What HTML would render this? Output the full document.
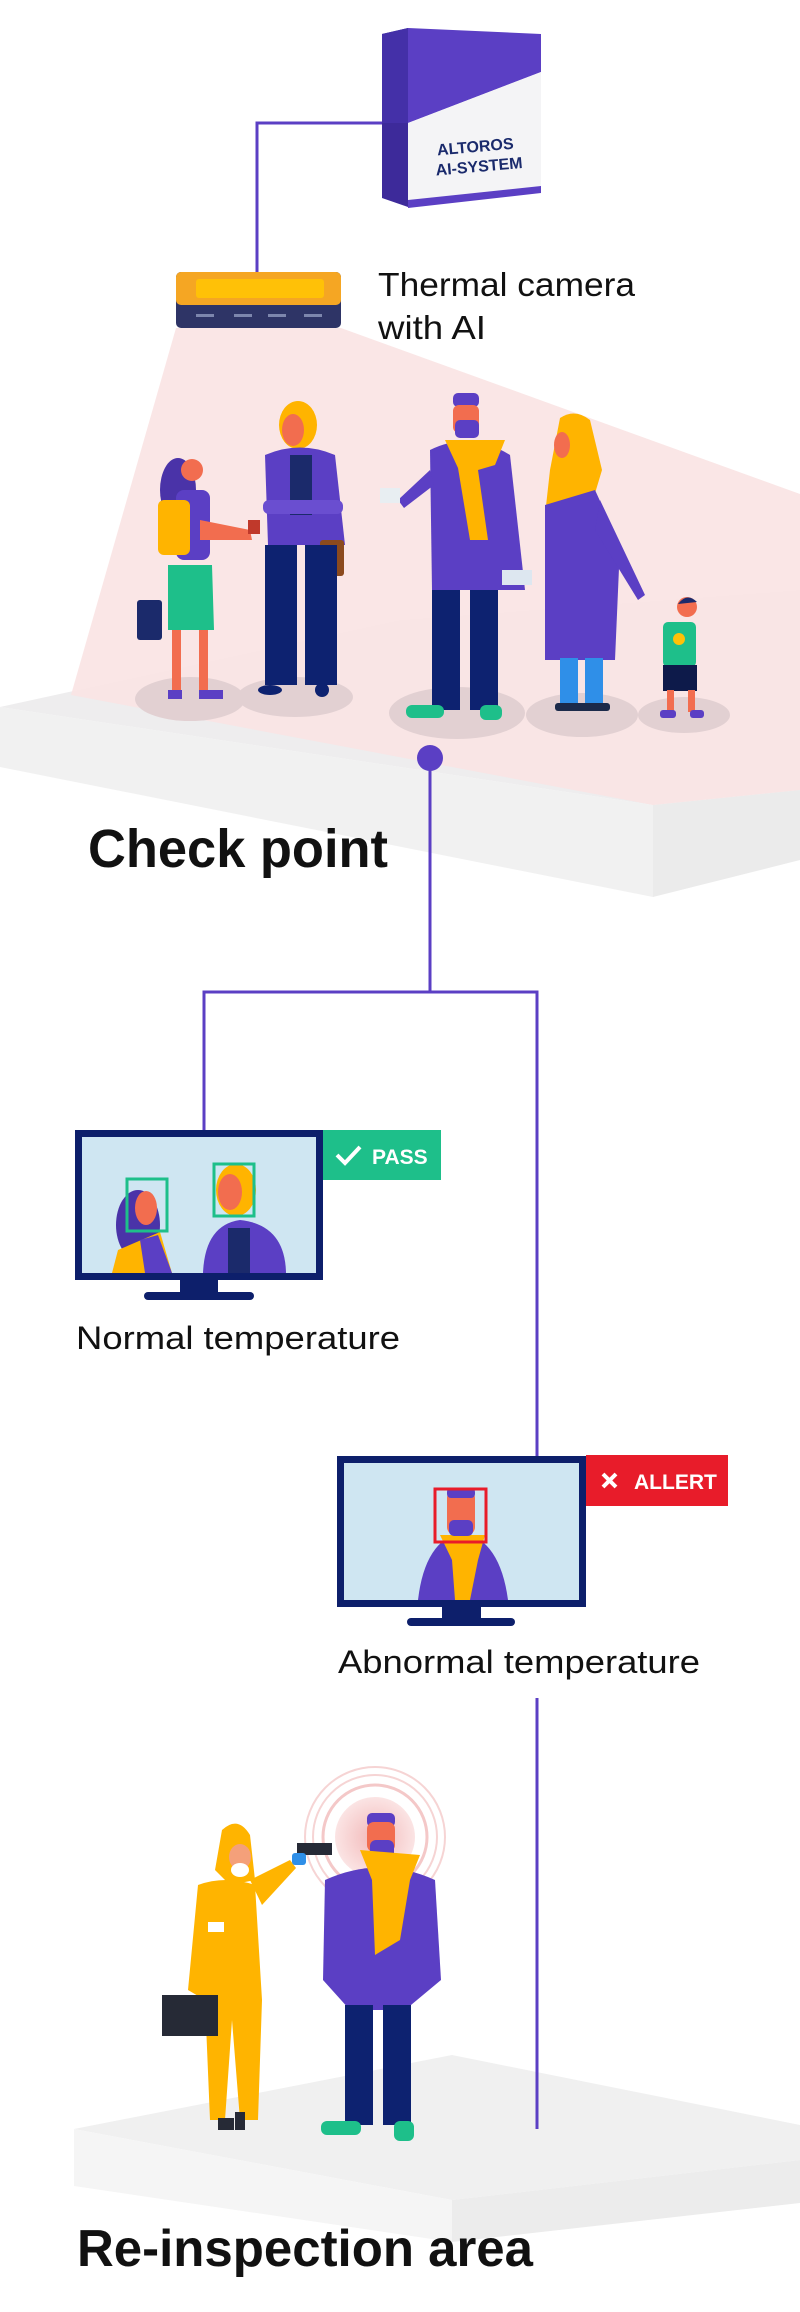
<!DOCTYPE html>
<html><head><meta charset="utf-8"><style>
html,body{margin:0;padding:0;background:#fff;}
svg{display:block;}
text{font-family:"Liberation Sans",sans-serif;}
</style></head><body>
<svg width="800" height="2312" viewBox="0 0 800 2312" xmlns="http://www.w3.org/2000/svg">
<defs>
<radialGradient id="g1" cx="0.5" cy="0.5" r="0.5"><stop offset="0" stop-color="#f2b8b8"/><stop offset="1" stop-color="#fbe4e4"/></radialGradient>
</defs>
<!-- Checkpoint platform -->
<polygon points="0,707 400,620 800,590 800,790 653,805" fill="#eeedee"/>
<polygon points="0,707 653,805 653,897 0,767" fill="#f1f1f1"/>
<polygon points="653,805 800,790 800,860 653,897" fill="#ebebeb"/>
<!-- pink cone -->
<polygon points="176,328 341,328 800,494 800,790 653,805 71,695" fill="#f9e3e3" opacity="0.9"/>
<!-- shadows -->
<g fill="#e2d0d2">
<ellipse cx="190" cy="699" rx="55" ry="22"/><ellipse cx="295" cy="697" rx="58" ry="20"/>
<ellipse cx="457" cy="713" rx="68" ry="26"/><ellipse cx="582" cy="715" rx="56" ry="22"/><ellipse cx="684" cy="715" rx="46" ry="18"/>
</g>
<!-- AI box -->
<polygon points="382,34 408,28 408,207 382,198" fill="#3d2a9a"/>
<polygon points="408,28 541,34 541,72 408,123" fill="#5b3fc4"/>
<polygon points="382,34 408,28 408,123 382,123" fill="#4430a8"/>
<polygon points="408,123 541,72 541,186 408,200" fill="#f4f4f6"/>
<polygon points="408,200 541,186 541,193 408,208" fill="#5b3fc4"/>
<g transform="rotate(-5 476 155)" fill="#1a2a6c" font-weight="bold" font-size="16">
<text x="476" y="152" text-anchor="middle">ALTOROS</text>
<text x="478" y="172" text-anchor="middle">AI-SYSTEM</text>
</g>
<!-- connector box->camera -->
<polyline points="382,123 257,123 257,273" fill="none" stroke="#5b3fc4" stroke-width="3"/>
<!-- camera -->
<rect x="176" y="272" width="165" height="56" rx="5" fill="#2e3466"/>
<rect x="176" y="272" width="165" height="33" rx="5" fill="#f5a623"/>
<rect x="196" y="279" width="128" height="19" rx="3" fill="#ffc107"/>
<g fill="#7d86ad"><rect x="196" y="314" width="18" height="3"/><rect x="234" y="314" width="18" height="3"/><rect x="268" y="314" width="18" height="3"/><rect x="304" y="314" width="18" height="3"/></g>
<text x="378" y="296" font-size="33" textLength="257" lengthAdjust="spacingAndGlyphs" fill="#111">Thermal camera</text>
<text x="378" y="339" font-size="33" textLength="108" lengthAdjust="spacingAndGlyphs" fill="#111">with AI</text>
<!-- Girl -->
<rect x="137" y="600" width="25" height="40" rx="3" fill="#1b2a6b"/>
<ellipse cx="178" cy="490" rx="18" ry="32" fill="#4a33a8"/>
<circle cx="192" cy="470" r="11" fill="#f26d4f"/>
<rect x="176" y="490" width="34" height="70" rx="8" fill="#5b3fc4"/>
<rect x="158" y="500" width="32" height="55" rx="6" fill="#ffb400"/>
<polygon points="200,520 250,530 252,540 200,540" fill="#f26d4f"/>
<rect x="248" y="520" width="12" height="14" fill="#c0392b"/>
<polygon points="168,565 212,565 214,630 168,630" fill="#1ebf8a"/>
<rect x="172" y="630" width="9" height="65" fill="#f26d4f"/><rect x="199" y="630" width="9" height="65" fill="#f26d4f"/>
<rect x="168" y="690" width="14" height="9" fill="#5b3fc4"/><rect x="199" y="690" width="24" height="9" fill="#5b3fc4"/>
<!-- Woman blonde -->
<ellipse cx="298" cy="425" rx="19" ry="24" fill="#ffb400"/>
<ellipse cx="293" cy="430" rx="11" ry="16" fill="#f26d4f"/>
<path d="M265 455 Q300 440 335 455 L345 545 L268 545 Z" fill="#5b3fc4"/>
<rect x="290" y="455" width="22" height="60" fill="#1b2a6b"/>
<rect x="263" y="500" width="80" height="14" rx="6" fill="#6a4ed0"/>
<rect x="320" y="540" width="24" height="36" rx="3" fill="#8b4a1e"/>
<rect x="265" y="545" width="32" height="140" fill="#0d2270"/><rect x="305" y="545" width="32" height="140" fill="#0d2270"/>
<ellipse cx="270" cy="690" rx="12" ry="5" fill="#0d2270"/><ellipse cx="322" cy="690" rx="7" ry="7" fill="#0d2270"/>
<!-- Man -->
<rect x="453" y="393" width="26" height="14" rx="5" fill="#5b3fc4"/>
<rect x="453" y="405" width="26" height="28" rx="6" fill="#f26d4f"/>
<rect x="455" y="420" width="24" height="18" rx="5" fill="#5b3fc4"/>
<path d="M430 450 Q470 430 510 455 L525 590 L432 590 Z" fill="#5b3fc4"/>
<polygon points="430,470 398,500 404,508 434,485" fill="#5b3fc4"/>
<rect x="380" y="488" width="20" height="15" fill="#e8eef2"/>
<path d="M445 440 L505 440 L495 465 L478 470 L488 540 L470 540 L458 468 Z" fill="#ffb400"/>
<rect x="432" y="590" width="28" height="120" fill="#0d2270"/><rect x="470" y="590" width="28" height="120" fill="#0d2270"/>
<rect x="406" y="705" width="38" height="13" rx="6" fill="#1ebf8a"/><rect x="480" y="705" width="22" height="15" rx="6" fill="#1ebf8a"/>
<!-- Hijab woman -->
<path d="M560 418 Q575 408 590 420 L602 470 L590 510 L545 515 L550 470 Z" fill="#ffb400"/>
<ellipse cx="562" cy="445" rx="8" ry="13" fill="#f26d4f"/>
<path d="M545 505 L595 490 L620 545 L615 660 L545 660 Z" fill="#5b3fc4"/>
<polygon points="600,500 645,595 638,600 595,530" fill="#5b3fc4"/>
<rect x="502" y="570" width="30" height="15" fill="#dde7f0"/>
<rect x="560" y="658" width="18" height="45" fill="#2f8fe8"/><rect x="585" y="658" width="18" height="45" fill="#2f8fe8"/>
<rect x="555" y="703" width="55" height="8" rx="3" fill="#1b2a4a"/>
<!-- Child -->
<circle cx="687" cy="607" r="10" fill="#f26d4f"/><path d="M678 604 Q687 592 697 602 Z" fill="#1b2a6b"/>
<rect x="663" y="622" width="33" height="45" rx="5" fill="#1ebf8a"/>
<circle cx="679" cy="639" r="6" fill="#ffc107"/>
<rect x="663" y="665" width="34" height="26" fill="#0d1a4a"/>
<rect x="667" y="690" width="7" height="22" fill="#f26d4f"/><rect x="688" y="690" width="7" height="22" fill="#f26d4f"/>
<rect x="660" y="710" width="16" height="8" rx="3" fill="#5b3fc4"/><rect x="690" y="710" width="14" height="8" rx="3" fill="#5b3fc4"/>
<!-- dot + connectors -->
<circle cx="430" cy="758" r="13" fill="#5b3fc4"/>
<polyline points="430,758 430,992" fill="none" stroke="#5b3fc4" stroke-width="3"/>
<polyline points="204,1130 204,992 537,992 537,1456" fill="none" stroke="#5b3fc4" stroke-width="3"/>
<text x="88" y="867" font-size="54" font-weight="bold" textLength="300" lengthAdjust="spacingAndGlyphs" fill="#111">Check point</text>
<!-- Monitor 1 -->
<rect x="75" y="1130" width="248" height="150" fill="#0d1f6b"/>
<rect x="82" y="1137" width="234" height="136" fill="#cfe6f2"/>
<ellipse cx="138" cy="1225" rx="22" ry="35" fill="#4a33a8"/>
<ellipse cx="146" cy="1208" rx="11" ry="17" fill="#f26d4f"/>
<path d="M118 1250 L160 1232 L172 1273 L112 1273 Z" fill="#ffb400"/>
<path d="M140 1240 L158 1235 L172 1273 L145 1273 Z" fill="#5b3fc4"/>
<ellipse cx="236" cy="1190" rx="20" ry="26" fill="#ffb400"/>
<ellipse cx="230" cy="1192" rx="12" ry="18" fill="#f26d4f"/>
<path d="M203 1273 Q205 1225 240 1220 Q285 1225 286 1273 Z" fill="#5b3fc4"/>
<rect x="228" y="1228" width="22" height="45" fill="#1b2a6b"/>
<rect x="127" y="1179" width="40" height="52" fill="none" stroke="#1ebf8a" stroke-width="3"/>
<rect x="214" y="1164" width="40" height="52" fill="none" stroke="#1ebf8a" stroke-width="3"/>
<rect x="180" y="1280" width="38" height="13" fill="#0d1f6b"/>
<rect x="144" y="1292" width="110" height="8" rx="4" fill="#0d1f6b"/>
<rect x="323" y="1130" width="118" height="50" fill="#1ebf8a"/>
<polyline points="337,1155 345,1163 360,1147" fill="none" stroke="#fff" stroke-width="4"/>
<text x="372" y="1164" font-size="21" font-weight="bold" fill="#fff">PASS</text>
<text x="76" y="1349" font-size="32" textLength="324" lengthAdjust="spacingAndGlyphs" fill="#111">Normal temperature</text>
<!-- Monitor 2 -->
<rect x="337" y="1456" width="249" height="151" fill="#0d1f6b"/>
<rect x="344" y="1463" width="235" height="137" fill="#cfe6f2"/>
<path d="M418 1600 Q425 1540 462 1532 Q500 1540 508 1600 Z" fill="#5b3fc4"/>
<path d="M440 1535 L485 1535 L478 1560 L470 1600 L455 1600 L452 1560 Z" fill="#ffb400"/>
<rect x="447" y="1490" width="28" height="45" rx="8" fill="#f26d4f"/>
<rect x="447" y="1488" width="28" height="10" rx="4" fill="#5b3fc4"/>
<rect x="449" y="1520" width="24" height="16" rx="5" fill="#5b3fc4"/>
<rect x="435" y="1489" width="51" height="53" fill="none" stroke="#e81c2a" stroke-width="3"/>
<rect x="442" y="1607" width="39" height="12" fill="#0d1f6b"/>
<rect x="407" y="1618" width="108" height="8" rx="4" fill="#0d1f6b"/>
<rect x="586" y="1455" width="142" height="51" fill="#e81c2a"/>
<g stroke="#fff" stroke-width="4"><line x1="603" y1="1474" x2="616" y2="1487"/><line x1="616" y1="1474" x2="603" y2="1487"/></g>
<text x="634" y="1489" font-size="21" font-weight="bold" fill="#fff">ALLERT</text>
<text x="338" y="1673" font-size="32" textLength="362" lengthAdjust="spacingAndGlyphs" fill="#111">Abnormal temperature</text>
<!-- Re-inspection platform -->
<polygon points="74,2129 452,2055 800,2125 800,2160 452,2200" fill="#f0f0f0"/>
<polygon points="74,2129 452,2200 452,2242 74,2186" fill="#f5f5f5"/>
<polygon points="452,2200 800,2160 800,2203 452,2242" fill="#ececec"/>
<line x1="537" y1="1698" x2="537" y2="2129" stroke="#5b3fc4" stroke-width="3"/>
<!-- circles -->
<circle cx="375" cy="1837" r="70" fill="none" stroke="#f6d4d4" stroke-width="2"/>
<circle cx="375" cy="1837" r="62" fill="none" stroke="#f6d4d4" stroke-width="2"/>
<circle cx="375" cy="1837" r="52" fill="none" stroke="#f4c8c8" stroke-width="3"/>
<circle cx="375" cy="1837" r="40" fill="url(#g1)"/>
<!-- yellow suit person -->
<path d="M222 1830 Q238 1815 250 1835 L255 1880 L230 1885 L215 1870 Z" fill="#ffb400"/>
<ellipse cx="240" cy="1857" rx="11" ry="13" fill="#f4a07a"/>
<ellipse cx="240" cy="1870" rx="9" ry="7" fill="#fff"/>
<polygon points="250,1880 290,1860 296,1868 262,1905" fill="#ffb400"/>
<path d="M198 1885 Q225 1875 255 1885 L262 2000 L258 2120 L240 2120 L232 2020 L225 2120 L210 2120 L205 2000 L188 1990 Z" fill="#ffb400"/>
<rect x="208" y="1922" width="16" height="10" fill="#fff"/>
<rect x="162" y="1995" width="56" height="41" fill="#262a36"/>
<rect x="218" y="2118" width="16" height="12" fill="#262a36"/><rect x="235" y="2112" width="10" height="18" fill="#262a36"/>
<rect x="297" y="1843" width="35" height="12" fill="#262a36"/>
<rect x="292" y="1853" width="14" height="12" rx="3" fill="#2f8fe8"/>
<!-- man re-inspection -->
<rect x="367" y="1813" width="28" height="14" rx="5" fill="#5b3fc4"/>
<rect x="367" y="1822" width="28" height="30" rx="7" fill="#f26d4f"/>
<rect x="370" y="1840" width="24" height="20" rx="6" fill="#5b3fc4"/>
<path d="M325 1880 Q380 1855 435 1880 L441 1980 L405 2010 L350 2010 L323 1980 Z" fill="#5b3fc4"/>
<path d="M360 1850 L420 1855 L410 1880 L400 1940 L375 1955 L372 1880 Z" fill="#ffb400"/>
<rect x="345" y="2005" width="28" height="120" fill="#0d2270"/><rect x="383" y="2005" width="28" height="120" fill="#0d2270"/>
<rect x="321" y="2121" width="40" height="14" rx="6" fill="#1ebf8a"/><rect x="394" y="2121" width="20" height="20" rx="6" fill="#1ebf8a"/>
<text x="77" y="2266" font-size="52" font-weight="bold" textLength="456" lengthAdjust="spacingAndGlyphs" fill="#111">Re-inspection area</text>
</svg>
</body></html>
